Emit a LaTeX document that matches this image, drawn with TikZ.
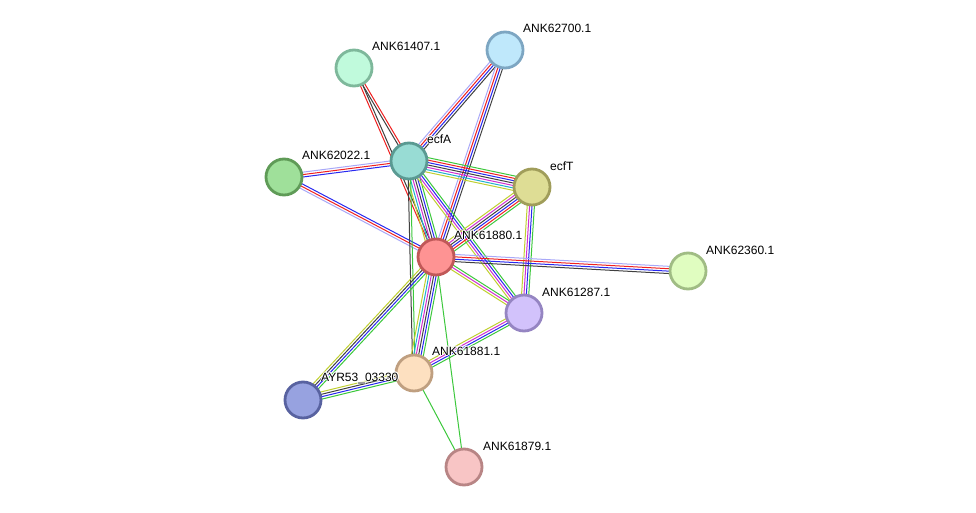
\documentclass[tikz,border=0pt]{standalone}
\usepackage{fontspec}
\setmainfont{Liberation Sans}
\usetikzlibrary{calc}
\pgfdeclarelayer{bg}
\pgfsetlayers{bg,main}
\definecolor{cgreen}{HTML}{3CC83C}
\definecolor{cred}{HTML}{F02020}
\definecolor{cblue}{HTML}{2828F0}
\definecolor{cblack}{HTML}{404040}
\definecolor{cmag}{HTML}{D030D0}
\definecolor{ccyan}{HTML}{20B0D0}
\definecolor{cyel}{HTML}{C0D030}
\definecolor{clb}{HTML}{A8A8F8}
\tikzset{
  prot/.style={circle, minimum size=36pt, inner sep=0pt, line width=2.8pt},
  lab/.style={anchor=west, font=\fontsize{12}{14}\selectfont, inner sep=0pt},
  halo/.style={lab, text=white},
  ln/.style={line width=1pt},
}
% \edgebundle{a}{b}{n}{colours}
\newcommand{\edgebundle}[4]{%
  \foreach \cc [count=\ii] in {#4} {%
    \pgfmathsetmacro{\oo}{((#3+1)/2-\ii)*2.4}%
    \path ($(#1)!\oo pt!90:(#2)$) coordinate (ea);
    \path ($(#2)!\oo pt!-90:(#1)$) coordinate (eb);
    \draw[ln, draw=\cc] (ea) -- (eb);
  }%
}
% \protlabel{name}{x}{y}{text}
\newcommand{\protlabel}[4]{%
  \foreach \dx/\dy in {-0.9/0,0.9/0,0/-0.9,0/0.9,-0.7/-0.7,0.7/0.7,-0.7/0.7,0.7/-0.7} {%
    \node[halo] at (#2+\dx,#3+\dy) {#4};
  }%
  \node[lab] (#1) at (#2,#3) {#4};
}
\begin{document}
\begin{tikzpicture}[x=1pt,y=-1pt]
\useasboundingbox (0,0) rectangle (976,513);
% nodes
\node[prot, fill={rgb,255:red,191;green,232;blue,251}, draw={rgb,255:red,125;green,166;blue,194}] (n700) at (505,50) {};
\node[prot, fill={rgb,255:red,192;green,250;blue,220}, draw={rgb,255:red,126;green,184;blue,155}] (n407) at (354,68) {};
\node[prot, fill={rgb,255:red,152;green,220;blue,212}, draw={rgb,255:red,90;green,154;blue,146}] (ecfA) at (409,161) {};
\node[prot, fill={rgb,255:red,159;green,224;blue,154}, draw={rgb,255:red,95;green,155;blue,87}] (n022) at (284,177) {};
\node[prot, fill={rgb,255:red,222;green,221;blue,149}, draw={rgb,255:red,160;green,157;blue,90}] (ecfT) at (532,187) {};
\node[prot, fill={rgb,255:red,254;green,147;blue,147}, draw={rgb,255:red,192;green,88;blue,88}] (n880) at (436,257) {};
\node[prot, fill={rgb,255:red,224;green,253;blue,192}, draw={rgb,255:red,160;green,188;blue,132}] (n360) at (688,271) {};
\node[prot, fill={rgb,255:red,210;green,194;blue,251}, draw={rgb,255:red,149;green,133;blue,194}] (n287) at (524,313) {};
\node[prot, fill={rgb,255:red,253;green,224;blue,192}, draw={rgb,255:red,191;green,159;blue,128}] (n881) at (414,373) {};
\node[prot, fill={rgb,255:red,151;green,162;blue,224}, draw={rgb,255:red,88;green,98;blue,160}] (ayr) at (303,400) {};
\node[prot, fill={rgb,255:red,248;green,197;blue,197}, draw={rgb,255:red,184;green,133;blue,133}] (n879) at (464,467) {};
% labels
\protlabel{l700}{523}{28}{ANK62700.1}
\protlabel{l407}{372}{46}{ANK61407.1}
\protlabel{lA}{427}{139}{ecfA}
\protlabel{l022}{302}{155}{ANK62022.1}
\protlabel{lT}{550}{166}{ecfT}
\protlabel{l880}{454}{235}{ANK61880.1}
\protlabel{l360}{706}{250}{ANK62360.1}
\protlabel{l287}{542}{292}{ANK61287.1}
\protlabel{l881}{432}{351}{ANK61881.1}
\protlabel{layr}{321}{378}{AYR53\_03330}
\protlabel{l879}{483}{446}{ANK61879.1}
% edges
\begin{pgfonlayer}{bg}
\fill[white] (0,0) rectangle (976,513);
\edgebundle{n407}{ecfA}{2}{cred,cblack}
\edgebundle{n407}{n880}{2}{cblack,cred}
\edgebundle{ecfA}{n700}{4}{clb,cred,cblue,cblack}
\edgebundle{n880}{n700}{4}{clb,cred,cblue,cblack}
\edgebundle{n022}{ecfA}{3}{clb,cred,cblue}
\edgebundle{n022}{n880}{3}{cblue,cred,clb}
\edgebundle{ecfA}{ecfT}{7}{cgreen,cred,cblue,cblack,cmag,ccyan,cyel}
\edgebundle{ecfA}{n880}{6}{cgreen,cblue,cblack,cmag,ccyan,cyel}
\edgebundle{ecfA}{n287}{4}{cgreen,cblue,cmag,cyel}
\edgebundle{ecfA}{n881}{2}{cgreen,cblack}
\edgebundle{ecfT}{n880}{6}{cgreen,cred,cblue,cblack,cmag,cyel}
\edgebundle{ecfT}{n287}{4}{cgreen,cblue,cmag,cyel}
\edgebundle{n880}{n360}{4}{clb,cred,cblue,cblack}
\edgebundle{n880}{n287}{3}{cgreen,cmag,cyel}
\edgebundle{n880}{n881}{6}{cgreen,cblue,cblack,cmag,ccyan,cyel}
\edgebundle{n880}{ayr}{4}{cgreen,cblue,cblack,cyel}
\edgebundle{n880}{n879}{1}{cgreen}
\edgebundle{n287}{n881}{4}{cgreen,cblue,cmag,cyel}
\edgebundle{n881}{ayr}{4}{cgreen,cblue,cblack,cyel}
\edgebundle{n881}{n879}{1}{cgreen}
\end{pgfonlayer}
\end{tikzpicture}
\end{document}
